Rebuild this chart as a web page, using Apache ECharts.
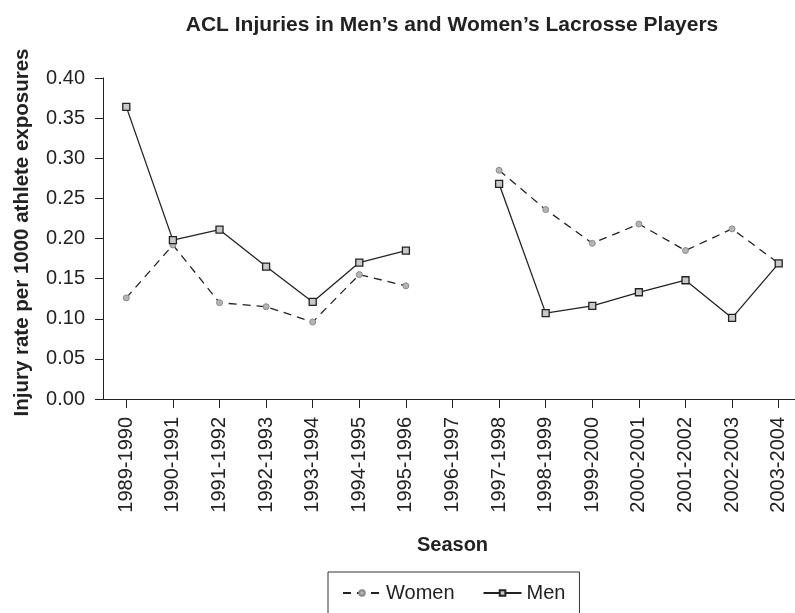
<!DOCTYPE html>
<html>
<head>
<meta charset="utf-8">
<script src="https://cdn.jsdelivr.net/npm/echarts@6/dist/echarts.min.js"></script>
<style>
  html, body { margin: 0; padding: 0; background: #fff; overflow: hidden; }
  /* a little wider than the window: the x axis runs off the right edge in the original */
  #main { width: 802px; height: 613px; }
</style>
</head>
<body>
<div id="main"></div>
<script>
// seasons on the x axis
var seasons = ['1989-1990', '1990-1991', '1991-1992', '1992-1993', '1993-1994', '1994-1995',
  '1995-1996', '1996-1997', '1997-1998', '1998-1999', '1999-2000', '2000-2001',
  '2001-2002', '2002-2003', '2003-2004'];

// injury rate per 1000 athlete exposures (no data for 1996-1997)
var women = [0.126, 0.192, 0.120, 0.115, 0.096, 0.155, 0.141, null,
  0.285, 0.236, 0.194, 0.218, 0.185, 0.212, 0.169];
var men = [0.364, 0.198, 0.211, 0.165, 0.121, 0.170, 0.185, null,
  0.268, 0.107, 0.116, 0.133, 0.148, 0.101, 0.169];

var font = 'Liberation Sans, Arial, sans-serif';

var myChart = echarts.init(document.getElementById('main'));

var option = {
  animation: false,
  textStyle: { fontFamily: font, color: '#222' },
  title: {
    text: 'ACL Injuries in Men\u2019s and Women\u2019s Lacrosse Players',
    left: 447,
    textAlign: 'center',
    top: 10,
    textStyle: { fontSize: 21, fontWeight: 'bold', color: '#222', fontFamily: font }
  },
  legend: {
    data: ['Women', 'Men'],
    left: 328,
    top: 572,
    padding: [11, 14, 12, 14],
    borderColor: '#333',
    borderWidth: 1,
    itemWidth: 38,
    itemHeight: 7,
    itemGap: 28,
    textStyle: { fontSize: 20, color: '#222', fontFamily: font }
  },
  grid: { left: 103, top: 78, bottom: 214, right: 0 },
  xAxis: [{
    type: 'category',
    data: seasons,
    boundaryGap: true,
    name: 'Season',
    nameLocation: 'middle',
    nameGap: 136,
    nameTextStyle: { fontSize: 20, fontWeight: 'bold', color: '#222' },
    axisLine: { lineStyle: { color: '#222', width: 1 } },
    axisTick: { length: 9, lineStyle: { color: '#222' } },
    axisLabel: { rotate: 90, fontSize: 20, color: '#222', margin: 18, interval: 0 },
    splitLine: { show: false }
  }, {
    // extra ticks at the centre of each category
    type: 'category',
    data: seasons,
    position: 'bottom',
    boundaryGap: true,
    axisLine: { show: false },
    axisTick: { show: true, alignWithLabel: true, interval: 0, length: 9, lineStyle: { color: '#222' } },
    axisLabel: { show: false },
    splitLine: { show: false }
  }],
  yAxis: {
    type: 'value',
    min: 0,
    max: 0.4,
    interval: 0.05,
    name: 'Injury rate per 1000 athlete exposures',
    nameLocation: 'middle',
    nameGap: 70,
    nameTextStyle: { fontSize: 20.5, fontWeight: 'bold', color: '#222', padding: [0, 0, 0, 12] },
    axisLine: { show: true, lineStyle: { color: '#222', width: 1 } },
    axisTick: { show: true, length: 8, lineStyle: { color: '#222' } },
    axisLabel: { fontSize: 20, color: '#222', margin: 18,
      formatter: function (v) { return v.toFixed(2); } },
    splitLine: { show: false }
  },
  series: [{
    name: 'Women',
    type: 'line',
    data: women,
    connectNulls: false,
    symbol: 'circle',
    symbolSize: 6,
    lineStyle: { color: '#222', width: 1.3, type: [8, 6] },
    itemStyle: { color: '#b5b5b5', borderColor: '#8a8a8a', borderWidth: 1 },
    z: 2
  }, {
    name: 'Men',
    type: 'line',
    data: men,
    connectNulls: false,
    symbol: 'rect',
    symbolSize: 7,
    lineStyle: { color: '#222', width: 1.3 },
    itemStyle: { color: '#c8c8c8', borderColor: '#222', borderWidth: 1.3 },
    z: 3
  }]
};

myChart.setOption(option);
window.onresize = function () {
  myChart.resize();
};
</script>
</body>
</html>
